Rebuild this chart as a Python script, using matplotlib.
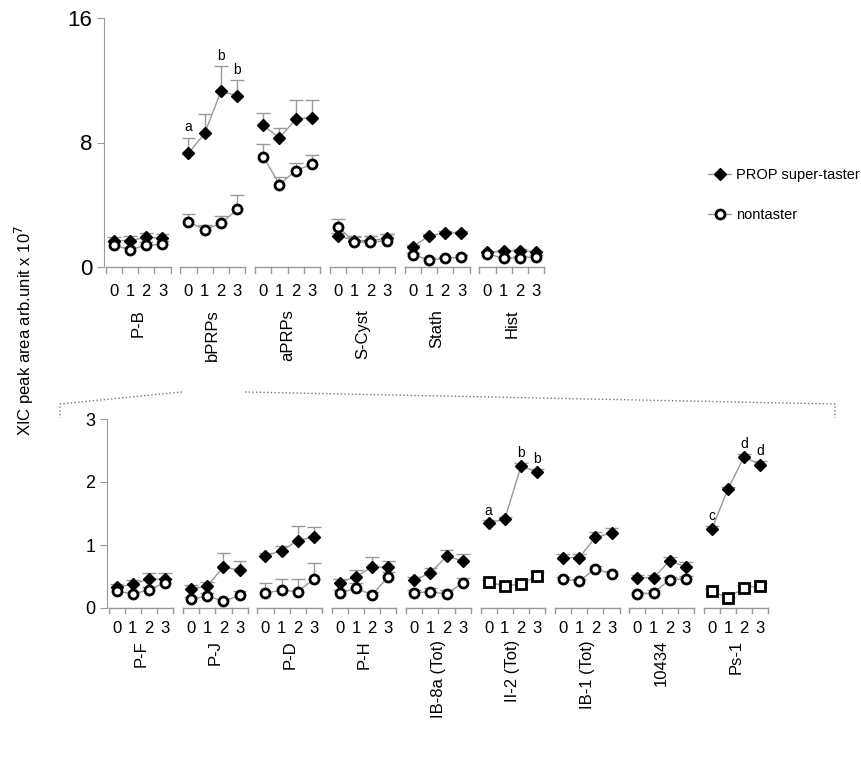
import numpy as np
import matplotlib
matplotlib.use("Agg")
from matplotlib import pyplot as plt
from matplotlib.lines import Line2D

plt.rcParams["font.family"] = ["Liberation Sans", "DejaVu Sans"]

# top panel
top_groups = ["P-B", "bPRPs", "aPRPs", "S-Cyst", "Stath", "Hist"]
top_prop = [[1.7, 1.7, 1.9, 1.85], [7.3, 8.6, 11.3, 11.0], [9.1, 8.3, 9.5, 9.6],
            [2.0, 1.7, 1.7, 1.85], [1.3, 2.0, 2.2, 2.2], [0.95, 1.0, 1.05, 0.95]]
top_prop_err = [[0.2, 0.3, 0.3, 0.3], [1.0, 1.2, 1.6, 1.0], [0.8, 0.6, 1.2, 1.1],
                [0.2, 0.3, 0.3, 0.3], [0.1, 0.1, 0.1, 0.1], [0.1, 0.1, 0.1, 0.1]]
top_non = [[1.4, 1.1, 1.4, 1.45], [2.9, 2.4, 2.8, 3.7], [7.1, 5.3, 6.2, 6.6],
           [2.6, 1.6, 1.6, 1.7], [0.8, 0.45, 0.55, 0.65], [0.85, 0.55, 0.6, 0.65]]
top_non_err = [[0.2, 0.2, 0.2, 0.2], [0.5, 0.3, 0.5, 0.9], [0.8, 0.5, 0.5, 0.6],
               [0.5, 0.3, 0.4, 0.4], [0.1, 0.1, 0.1, 0.1], [0.1, 0.1, 0.1, 0.1]]
top_letters = {1: ["a", "", "b", "b"]}

# bottom panel (bPRPs detail)
bot_groups = ["P-F", "P-J", "P-D", "P-H", "IB-8a (Tot)", "II-2 (Tot)", "IB-1 (Tot)", "10434", "Ps-1"]
bot_prop = [[0.33, 0.38, 0.46, 0.46], [0.3, 0.35, 0.65, 0.6], [0.83, 0.91, 1.07, 1.13],
            [0.4, 0.5, 0.65, 0.65], [0.44, 0.56, 0.82, 0.75], [1.35, 1.41, 2.25, 2.16],
            [0.8, 0.8, 1.12, 1.19], [0.48, 0.48, 0.75, 0.65], [1.25, 1.89, 2.4, 2.27]]
bot_prop_err = [[0.05, 0.07, 0.1, 0.1], [0.06, 0.06, 0.23, 0.14], [0.05, 0.07, 0.23, 0.15],
                [0.06, 0.1, 0.16, 0.1], [0.05, 0.08, 0.1, 0.1], [0.04, 0.04, 0.05, 0.05],
                [0.05, 0.05, 0.08, 0.08], [0.04, 0.05, 0.06, 0.08], [0.05, 0.03, 0.05, 0.06]]
bot_non = [[0.27, 0.22, 0.29, 0.4], [0.14, 0.19, 0.11, 0.2], [0.24, 0.28, 0.26, 0.46],
           [0.24, 0.31, 0.21, 0.5], [0.24, 0.26, 0.22, 0.4], [0.41, 0.35, 0.38, 0.51],
           [0.46, 0.43, 0.62, 0.54], [0.22, 0.24, 0.45, 0.46], [0.27, 0.16, 0.32, 0.35]]
bot_non_err = [[0.04, 0.04, 0.05, 0.06], [0.03, 0.05, 0.03, 0.07], [0.15, 0.18, 0.2, 0.26],
               [0.05, 0.08, 0.04, 0.07], [0.04, 0.05, 0.06, 0.07], [0.03, 0.03, 0.04, 0.06],
               [0.04, 0.03, 0.05, 0.05], [0.03, 0.04, 0.05, 0.05], [0.03, 0.02, 0.04, 0.05]]
bot_square = [5, 8]
bot_letters = {5: ["a", "", "b", "b"], 8: ["c", "", "d", "d"]}

times = [0, 1, 2, 3]
STEP = 4.6
GREY = "#999999"


def draw_panel(ax, groups, prop, prop_err, non, non_err, ymax, yticks, letters, squares=()):
    dy = ymax * 0.015
    for g, name in enumerate(groups):
        x = np.array(times) + g * STEP
        for vals, errs, kind in [(prop, prop_err, "p"), (non, non_err, "n")]:
            v = np.array(vals[g])
            e = np.array(errs[g])
            ax.vlines(x, v, v + e, color=GREY, lw=1, zorder=1)
            ax.hlines(v + e, x - 0.42, x + 0.42, color=GREY, lw=1, zorder=1)
            if kind == "p":
                ax.plot(x, v, "-D", color=GREY, lw=1, mfc="black", mec="black", ms=6, zorder=3)
            else:
                m = "s" if g in squares else "o"
                ax.plot(x, v, "-" + m, color=GREY, lw=1, mfc="white", mec="black",
                        mew=2, ms=6.5, zorder=3)
        if g in letters:
            for i, t in enumerate(letters[g]):
                if t:
                    top = prop[g][i] + prop_err[g][i]
                    ax.text(x[i], top + dy, t, ha="center", va="bottom", fontsize=10)
        # broken baseline with ticks
        ax.plot([x[0] - 0.5, x[-1] + 0.5], [0, 0], color=GREY, lw=1, clip_on=False)
        for xv in list(x - 0.5) + [x[-1] + 0.5]:
            ax.plot([xv, xv], [0, -ymax * 0.025], color=GREY, lw=1, clip_on=False)
        for xv, t in zip(x, times):
            ax.text(xv, -ymax * 0.07, str(t), ha="center", va="top", fontsize=12)
        ax.text(x[1] + 0.5, -ymax * 0.17, name, ha="center", va="top",
                rotation=90, fontsize=12)
    ax.set_xlim(-0.6, (len(groups) - 1) * STEP + 3.6)
    ax.set_ylim(0, ymax)
    ax.set_yticks(yticks)
    ax.tick_params(axis="y", color=GREY, length=5)
    ax.set_xticks([])
    for s in ["top", "right", "bottom"]:
        ax.spines[s].set_visible(False)
    ax.spines["left"].set_color(GREY)


fig = plt.figure(figsize=(8.62, 7.62), dpi=100)
W, H = 862, 762
ax1 = fig.add_axes([104 / W, 1 - 267 / H, 442 / W, 249 / H])
ax2 = fig.add_axes([107 / W, 1 - 608 / H, 663 / W, 189 / H])

draw_panel(ax1, top_groups, top_prop, top_prop_err, top_non, top_non_err, 16, [0, 8, 16], top_letters)
ax1.tick_params(axis="y", labelsize=16)
draw_panel(ax2, bot_groups, bot_prop, bot_prop_err, bot_non, bot_non_err, 3, [0, 1, 2, 3],
           bot_letters, bot_square)
ax2.tick_params(axis="y", labelsize=13)

fig.text(24 / W, 1 - 330 / H, "XIC peak area arb.unit x 10$^7$", rotation=90,
         ha="center", va="center", fontsize=12)

# zoom connector lines
def fx(p):
    return p / W
def fy(p):
    return 1 - p / H
fig.add_artist(Line2D([fx(182), fx(60), fx(60)], [fy(392), fy(404), fy(418)],
                      color="#777777", lw=1, ls=":"))
fig.add_artist(Line2D([fx(245), fx(835), fx(835)], [fy(392), fy(404), fy(418)],
                      color="#777777", lw=1, ls=":"))

handles = [Line2D([], [], color=GREY, lw=1, marker="D", mfc="black", mec="black", ms=6),
           Line2D([], [], color=GREY, lw=1, marker="o", mfc="white", mec="black", mew=2, ms=6.5)]
fig.legend(handles, ["PROP super-taster", "nontaster"], loc="center left",
           bbox_to_anchor=(708 / W, 1 - 195 / H), frameon=False, fontsize=10.5,
           labelspacing=1.8, handlelength=1.6, handletextpad=0.3, borderaxespad=0,
           borderpad=0)

plt.savefig("out.png", dpi=100)
